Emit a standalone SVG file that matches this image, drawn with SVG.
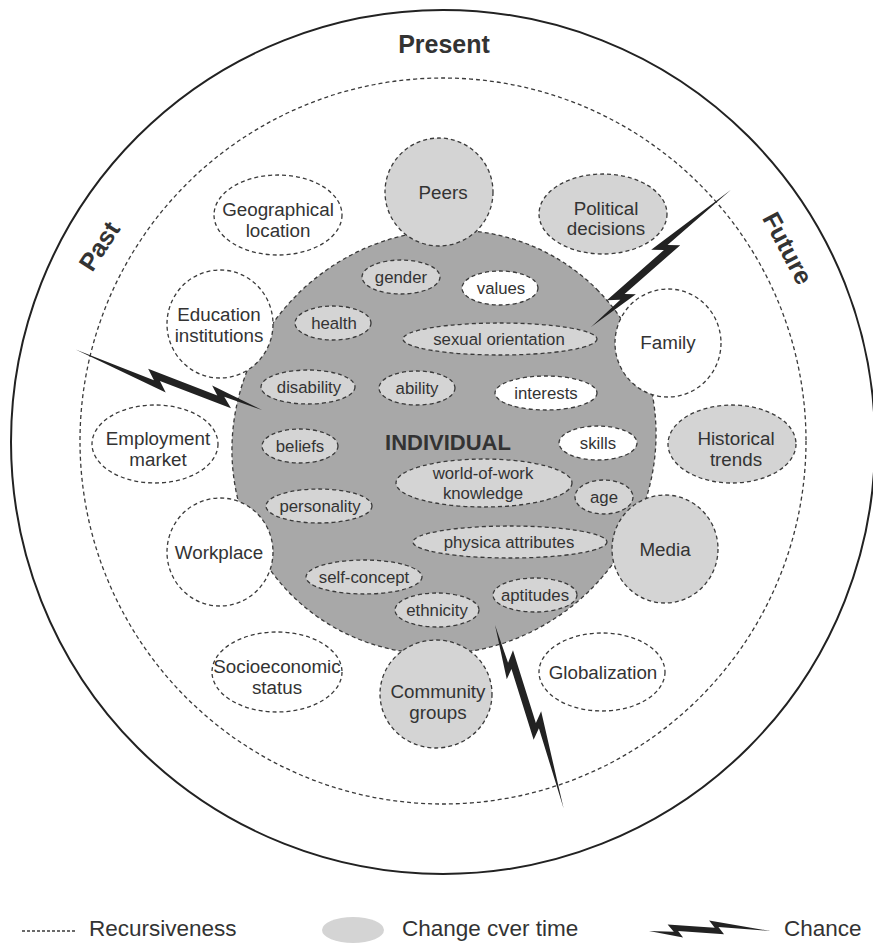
<svg xmlns="http://www.w3.org/2000/svg" width="873" height="943" viewBox="0 0 873 943">
<style>
  text { font-family: "Liberation Sans", Arial, sans-serif; fill: #333; text-anchor: middle; }
  .ring { fill: none; stroke: #222; stroke-width: 2; }
  .dash { stroke: #3a3a3a; stroke-width: 1.3; stroke-dasharray: 4 3; }
  .w { fill: #fff; }
  .g { fill: #d4d4d4; }
  .core { fill: #a8a8a8; }
  .sat { font-size: 18.8px; }
  .in { font-size: 16.8px; }
  .time { font-size: 25px; font-weight: bold; }
  .bolt { fill: #222; }
  .leg { font-size: 22.5px; text-anchor: start; }
</style>
<defs>
  <!-- lightning bolt: inner tip at origin, long tapering tail along +x -->
  <polygon id="bolt" class="bolt" points="0,0 40,1 30,-8 106,-4 97,-13 196,0 112,-5 121,4 47,0 55,8"/>
</defs>

<rect width="873" height="943" fill="#fff"/>

<!-- time frame -->
<g id="time-frame">
  <circle class="ring" cx="443" cy="442" r="432"/>
  <text class="time" x="444" y="53">Present</text>
  <text class="time" transform="translate(99,246) rotate(-57)" y="9">Past</text>
  <text class="time" transform="translate(788,248) rotate(62)" y="9">Future</text>
</g>

<!-- context system boundary -->
<g id="context">
  <circle class="dash" fill="none" cx="443" cy="441" r="363"/>
</g>

<!-- individual system -->
<g id="individual">
  <ellipse class="core dash" cx="444" cy="442" rx="216" ry="208" transform="rotate(-45 444 442)"/>
  <text x="448" y="450" style="font-size:22px;font-weight:bold">INDIVIDUAL</text>
</g>

<!-- social and environmental influences -->
<g id="geographical-location">
  <ellipse class="w dash" cx="278" cy="215" rx="64" ry="40"/>
  <text class="sat" x="278" y="216">Geographical</text>
  <text class="sat" x="278" y="237">location</text>
</g>
<g id="peers">
  <circle class="g dash" cx="439" cy="192" r="54"/>
  <text class="sat" x="443" y="199">Peers</text>
</g>
<g id="political-decisions">
  <ellipse class="g dash" cx="603" cy="214" rx="64" ry="40"/>
  <text class="sat" x="606" y="215">Political</text>
  <text class="sat" x="606" y="235">decisions</text>
</g>
<g id="education-institutions">
  <ellipse class="w dash" cx="220" cy="324" rx="53" ry="54"/>
  <text class="sat" x="219" y="321">Education</text>
  <text class="sat" x="219" y="342">institutions</text>
</g>
<g id="family">
  <ellipse class="w dash" cx="668" cy="343" rx="53" ry="54"/>
  <text class="sat" x="668" y="349">Family</text>
</g>
<g id="employment-market">
  <ellipse class="w dash" cx="155" cy="444" rx="63" ry="39"/>
  <text class="sat" x="158" y="445">Employment</text>
  <text class="sat" x="158" y="466">market</text>
</g>
<g id="historical-trends">
  <ellipse class="g dash" cx="732" cy="444" rx="64" ry="39"/>
  <text class="sat" x="736" y="445">Historical</text>
  <text class="sat" x="736" y="466">trends</text>
</g>
<g id="workplace">
  <ellipse class="w dash" cx="220" cy="552" rx="53" ry="54"/>
  <text class="sat" x="219" y="559">Workplace</text>
</g>
<g id="media">
  <ellipse class="g dash" cx="665" cy="549" rx="53" ry="54"/>
  <text class="sat" x="665" y="556">Media</text>
</g>
<g id="socioeconomic-status">
  <ellipse class="w dash" cx="277" cy="672" rx="65" ry="40"/>
  <text class="sat" x="277" y="673">Socioeconomic</text>
  <text class="sat" x="277" y="694">status</text>
</g>
<g id="community-groups">
  <ellipse class="g dash" cx="436" cy="694" rx="56" ry="54"/>
  <text class="sat" x="438" y="698">Community</text>
  <text class="sat" x="438" y="719">groups</text>
</g>
<g id="globalization">
  <ellipse class="w dash" cx="602" cy="672" rx="63" ry="39"/>
  <text class="sat" x="603" y="679">Globalization</text>
</g>

<!-- intrapersonal influences -->
<g id="gender"><ellipse class="g dash" cx="401" cy="277" rx="39" ry="17"/><text class="in" x="401" y="283">gender</text></g>
<g id="values"><ellipse class="w dash" cx="500" cy="288" rx="38" ry="17"/><text class="in" x="501" y="294">values</text></g>
<g id="health"><ellipse class="g dash" cx="333" cy="323" rx="38" ry="17"/><text class="in" x="334" y="329">health</text></g>
<g id="sexual-orientation"><ellipse class="g dash" cx="500" cy="339" rx="97" ry="16"/><text class="in" x="499" y="345">sexual orientation</text></g>
<g id="disability"><ellipse class="g dash" cx="308" cy="387" rx="47" ry="17"/><text class="in" x="309" y="393">disability</text></g>
<g id="ability"><ellipse class="g dash" cx="417" cy="388" rx="38" ry="17"/><text class="in" x="417" y="394">ability</text></g>
<g id="interests"><ellipse class="w dash" cx="546" cy="393" rx="51" ry="17"/><text class="in" x="546" y="399">interests</text></g>
<g id="beliefs"><ellipse class="g dash" cx="300" cy="446" rx="38" ry="17"/><text class="in" x="300" y="452">beliefs</text></g>
<g id="skills"><ellipse class="w dash" cx="598" cy="443" rx="39" ry="17"/><text class="in" x="598" y="449">skills</text></g>
<g id="world-of-work-knowledge"><ellipse class="g dash" cx="484" cy="483" rx="88" ry="24"/><text class="in" x="483" y="479">world-of-work</text><text class="in" x="483" y="499">knowledge</text></g>
<g id="age"><ellipse class="g dash" cx="604" cy="497" rx="29" ry="17"/><text class="in" x="604" y="503">age</text></g>
<g id="personality"><ellipse class="g dash" cx="319" cy="506" rx="53" ry="17"/><text class="in" x="320" y="512">personality</text></g>
<g id="physical-attributes"><ellipse class="g dash" cx="510" cy="542" rx="97" ry="16"/><text class="in" x="509" y="548">physica attributes</text></g>
<g id="self-concept"><ellipse class="g dash" cx="364" cy="577" rx="58" ry="17"/><text class="in" x="364" y="583">self-concept</text></g>
<g id="aptitudes"><ellipse class="g dash" cx="535" cy="595" rx="42" ry="17"/><text class="in" x="535" y="601">aptitudes</text></g>
<g id="ethnicity"><ellipse class="g dash" cx="437" cy="610" rx="42" ry="17"/><text class="in" x="437" y="616">ethnicity</text></g>

<!-- chance events -->
<g id="chance">
  <use href="#bolt" transform="translate(591,327) rotate(-44.4)"/>
  <use href="#bolt" transform="translate(262,410) rotate(-162)"/>
  <use href="#bolt" transform="translate(495,625) rotate(69.5)"/>
</g>

<!-- legend -->
<g id="legend">
  <line class="dash" x1="22" y1="931" x2="76" y2="931" style="stroke-dasharray:3 2"/>
  <text class="leg" x="89" y="936">Recursiveness</text>
  <ellipse class="g" cx="353" cy="930" rx="31" ry="13"/>
  <text class="leg" x="402" y="936">Change cver time</text>
  <use href="#bolt" transform="translate(649,931) scale(0.62,0.8)"/>
  <text class="leg" x="784" y="936">Chance</text>
</g>
</svg>
